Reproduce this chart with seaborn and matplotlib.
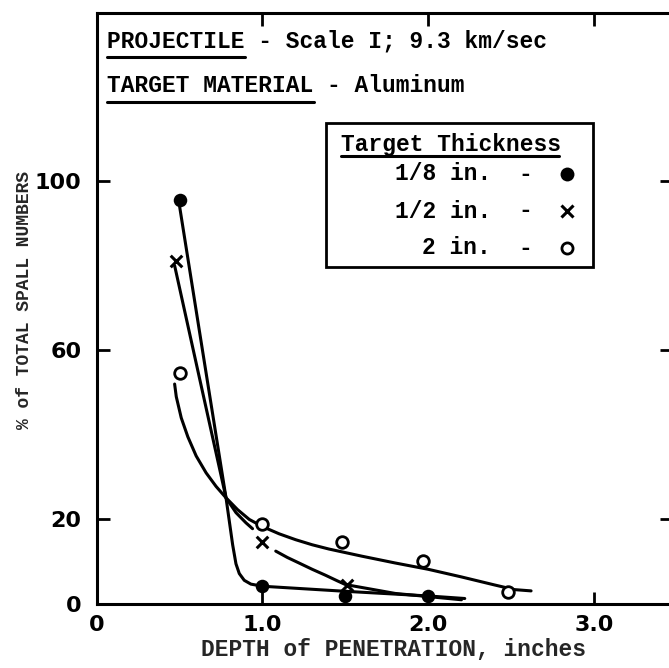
import matplotlib
matplotlib.use("Agg")
import matplotlib.pyplot as plt
import seaborn as sns
import pandas as pd
from matplotlib.lines import Line2D
from matplotlib.patches import Rectangle

# ---------------- data ----------------
# hand-drawn curves
curve_18_x = [0.50, 0.64, 0.78, 0.82, 0.84, 0.86, 0.89, 0.93, 1.00, 1.50, 2.00, 2.22]
curve_18_y = [94.0, 59.5, 25.1, 14.0, 9.5, 7.2, 5.6, 4.7, 4.2, 3.0, 1.9, 1.3]

curve_12a_x = [0.47, 0.62, 0.78, 0.84, 0.90, 0.94]
curve_12a_y = [80.0, 53.4, 25.1, 21.6, 19.2, 17.8]
curve_12b_x = [1.08, 1.15, 1.22, 1.30, 1.38, 1.45, 1.50, 1.80, 2.20]
curve_12b_y = [12.5, 11.0, 9.7, 8.2, 6.8, 5.5, 4.6, 2.5, 1.0]

curve_2_x = [0.47, 0.48, 0.51, 0.55, 0.60, 0.66, 0.72, 0.78, 0.85, 0.92,
             1.00, 1.10, 1.20, 1.30, 1.40, 1.60, 1.80, 2.00, 2.20, 2.40,
             2.52, 2.62]
curve_2_y = [52.0, 49.0, 44.0, 39.5, 35.0, 31.0, 27.8, 25.1, 22.3, 20.0,
             18.3, 16.6, 15.2, 14.0, 13.0, 11.3, 9.7, 8.2, 6.4, 4.5,
             3.4, 3.1]

# measured points
pts_18_x = [0.50, 1.00, 1.50, 2.00]
pts_18_y = [95.6, 4.2, 2.0, 1.9]
pts_12_x = [0.48, 1.00, 1.51]
pts_12_y = [81.0, 14.6, 4.6]
pts_2_x = [0.50, 1.00, 1.48, 1.97, 2.48]
pts_2_y = [54.7, 18.8, 14.7, 10.1, 2.8]

xticks = [0, 1, 2, 3]
xticklabels = ["0", "1.0", "2.0", "3.0"]
yticks = [0, 20, 60, 100]
yticklabels = ["0", "20", "60", "100"]

legend_title = "Target Thickness"
legend_labels = ["1/8 in.", "1/2 in.", "2 in."]

# ---------------- style ----------------
sns.set_style("ticks")
plt.rcParams["font.family"] = ["DejaVu Sans"]
MONO = "Liberation Mono"

W, H = 669, 668
fig = plt.figure(figsize=(W / 100, H / 100), dpi=100)
fig.patch.set_facecolor("white")

# axes box in pixel terms
x0_px, x1_px = 96.7, 672.0
y0_px, y1_px = 604.0, 13.0
ax = fig.add_axes([x0_px / W, 1 - y0_px / H, (x1_px - x0_px) / W, (y0_px - y1_px) / H])
ax.set_facecolor("white")

LW = 2.2
line_kw = dict(color="black", linewidth=LW, sort=False, estimator=None,
               legend=False, ax=ax)

def draw_curve(xs, ys):
    df = pd.DataFrame({"x": xs, "y": ys})
    sns.lineplot(data=df, x="x", y="y", **line_kw)

draw_curve(curve_18_x, curve_18_y)
draw_curve(curve_12a_x, curve_12a_y)
draw_curve(curve_12b_x, curve_12b_y)
draw_curve(curve_2_x, curve_2_y)
for l in ax.lines:
    l.set_solid_joinstyle("round")
    l.set_solid_capstyle("round")

sns.scatterplot(x=pts_18_x, y=pts_18_y, marker="o", s=95, color="black",
                edgecolor="black", linewidth=0, ax=ax, zorder=5, legend=False)
sns.scatterplot(x=pts_12_x, y=pts_12_y, marker="x", s=70, color="black",
                linewidth=2.2, ax=ax, zorder=5, legend=False)
sns.scatterplot(x=pts_2_x, y=pts_2_y, marker="o", s=70, facecolor="white",
                edgecolor="black", linewidth=2.0, ax=ax, zorder=5, legend=False)

ax.set_xlim(0, 3.47)
ax.set_ylim(0, (y0_px - y1_px) / 4.23)
ax.set_xticks(xticks)
ax.set_xticklabels(xticklabels, fontweight="bold")
ax.set_yticks(yticks)
ax.set_yticklabels(yticklabels, fontweight="bold")
ax.tick_params(direction="in", length=9, width=2, colors="black",
               labelsize=16, top=True, right=True)
ax.tick_params(axis="x", pad=8)
ax.tick_params(axis="y", pad=11)
for sp in ax.spines.values():
    sp.set_linewidth(2.2)
    sp.set_color("black")

ax.set_xlabel("DEPTH of PENETRATION, inches", fontfamily=MONO,
              fontweight="bold", fontsize=16.5)
ax.xaxis.set_label_coords((393.5 - x0_px) / (x1_px - x0_px),
                          (y0_px - 650) / (y0_px - y1_px))
ax.xaxis.label.set_va("center")
ax.set_ylabel("% of TOTAL SPALL NUMBERS", fontfamily=MONO,
              fontweight="bold", fontsize=13)
ax.yaxis.set_label_coords((24 - x0_px) / (x1_px - x0_px),
                          (y0_px - 300) / (y0_px - y1_px))
ax.yaxis.label.set_va("center")

# ---------------- annotations (pixel placement helper) ----------------
def P(px, py):
    return px / W, 1 - py / H

txt_kw = dict(fontfamily=MONO, fontweight="bold", fontsize=16.5,
              color="black", transform=fig.transFigure, va="center")

fig.text(*P(107, 41), "PROJECTILE - Scale I; 9.3 km/sec", ha="left", **txt_kw)
fig.text(*P(107, 85), "TARGET MATERIAL - Aluminum", ha="left", **txt_kw)

def hline(xa, xb, y, lw=2.2):
    (fx0, fy), (fx1, _) = P(xa, y), P(xb, y)
    fig.add_artist(Line2D([fx0, fx1], [fy, fy], color="black", lw=lw,
                          transform=fig.transFigure))

hline(107, 245, 57)
hline(107, 314, 102)

# legend box
bx0, by0, bx1, by1 = 326, 123, 593, 267
fig.add_artist(Rectangle(P(bx0, by1), (bx1 - bx0) / W, (by1 - by0) / H,
                         transform=fig.transFigure, fill=False,
                         edgecolor="black", linewidth=2.0))
fig.text(*P(341, 144), legend_title, ha="left", **txt_kw)
hline(341, 559, 156)

row_y = [174, 211, 248]
handle_kw = [dict(marker="o", ms=10, mfc="black", mec="black", mew=0),
             dict(marker="x", ms=8, mfc="black", mec="black", mew=2.2),
             dict(marker="o", ms=8, mfc="white", mec="black", mew=2.0)]
for lab, y, hk in zip(legend_labels, row_y, handle_kw):
    fig.text(*P(491, y), lab, ha="right", **txt_kw)
    fig.text(*P(525, y), "-", ha="center", **txt_kw)
    fx, fy = P(567, y)
    fig.add_artist(Line2D([fx], [fy], ls="", color="black",
                          transform=fig.transFigure, **hk))

fig.savefig("out.png", dpi=100, facecolor="white")
